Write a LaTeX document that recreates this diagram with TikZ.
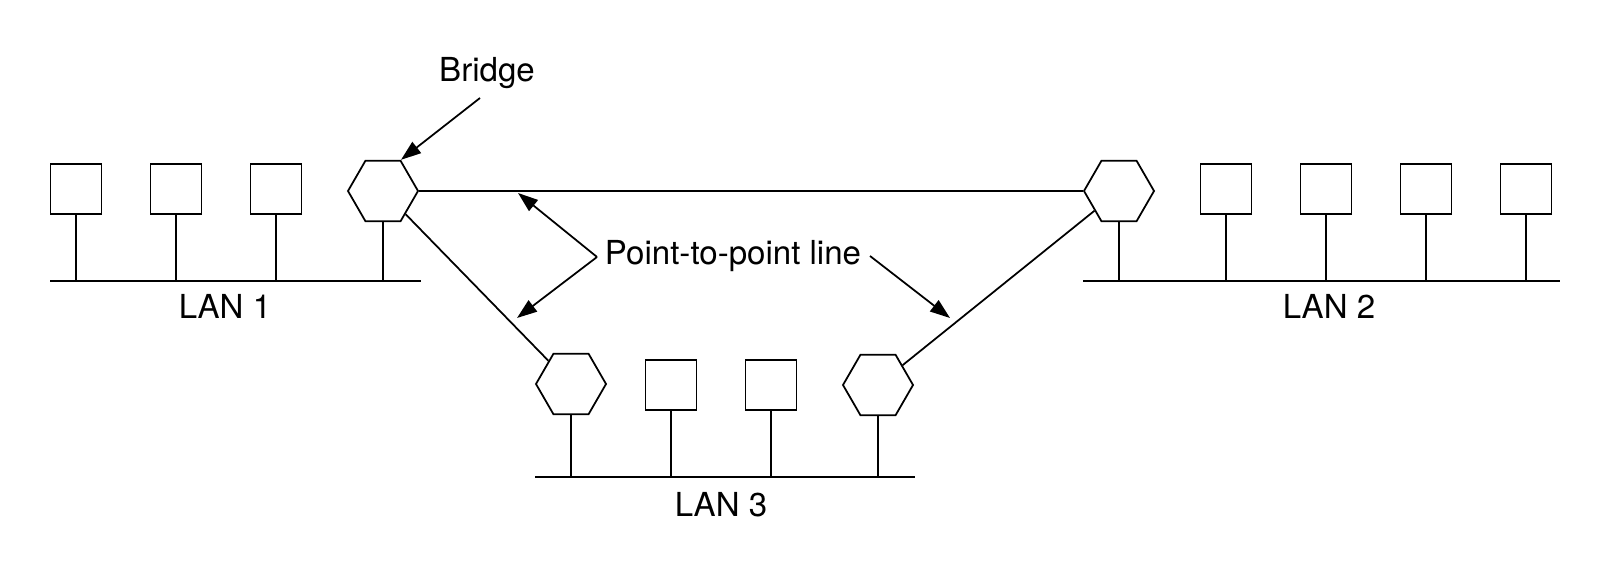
\documentclass[tikz,border=0pt]{standalone}
\usepackage{fontspec}
\setmainfont{TeX Gyre Heros}
\usetikzlibrary{arrows.meta,shapes.geometric}

\begin{document}
\begin{tikzpicture}[x=0.01cm,y=-0.01cm,line width=0.5pt,
          >={Triangle[length=2mm,width=1.4mm]},
          host/.style={rectangle,draw,minimum width=5.1mm,minimum height=5mm,inner sep=0pt},
          bridge/.style={regular polygon,regular polygon sides=6,draw,minimum size=7mm,inner sep=0pt},
          lbl/.style={font=\fontsize{9.4}{11}\selectfont,inner sep=0pt}]
        \useasboundingbox (0,0) rectangle (1610,574);
        % LAN 1
        \node[host] (a1) at (76,189) {};
        \node[host] (a2) at (176,189) {};
        \node[host] (a3) at (276,189) {};
        \node[bridge] (ba) at (383,191) {};
        \coordinate (la) at (50,281); \coordinate (ra) at (421,281);
        \draw (la) -- (ra);
        \foreach \n in {a1,a2,a3,ba} \draw (\n) -- (\n |- la);
        \node[lbl] (lan1) at (225,306) {LAN 1};
        % LAN 2
        \node[bridge] (bb) at (1119,191) {};
        \node[host] (c1) at (1226,189) {};
        \node[host] (c2) at (1326,189) {};
        \node[host] (c3) at (1426,189) {};
        \node[host] (c4) at (1526,189) {};
        \coordinate (lb) at (1083,281); \coordinate (rb) at (1560,281);
        \draw (lb) -- (rb);
        \foreach \n in {bb,c1,c2,c3,c4} \draw (\n) -- (\n |- lb);
        \node[lbl] (lan2) at (1329,306) {LAN 2};
        % LAN 3
        \node[bridge] (bc) at (571,384) {};
        \node[host] (d1) at (671,385) {};
        \node[host] (d2) at (771,385) {};
        \node[bridge] (bd) at (878,385) {};
        \coordinate (lc) at (535,477); \coordinate (rc) at (915,477);
        \draw (lc) -- (rc);
        \foreach \n in {bc,d1,d2,bd} \draw (\n) -- (\n |- lc);
        \node[lbl] (lan3) at (721,505) {LAN 3};
        % point-to-point lines
        \draw (ba) -- (bb); \draw (ba) -- (bc); \draw (bb) -- (bd);
        % labels and pointers
        \node[lbl,anchor=base] (brl) at (487,82) {Bridge};
        \coordinate (bq) at (480,98);
        \draw[->] (bq) -- (ba.60);
        \node[lbl,anchor=base] (ptl) at (733,265) {Point-to-point line};
        \coordinate (pl) at (597,257); \coordinate (pr) at (870,256);
        \coordinate (t1) at (518,193); \coordinate (t2) at (517,318);
        \coordinate (t3) at (950,318);
        \draw[->] (pl) -- (t1); \draw[->] (pl) -- (t2); \draw[->] (pr) -- (t3);
      \end{tikzpicture}
\end{document}
